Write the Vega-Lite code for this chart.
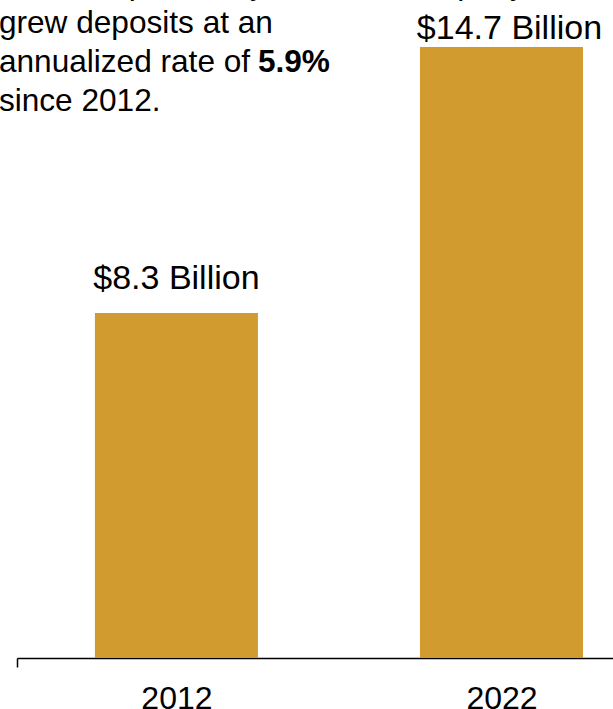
{
  "$schema": "https://vega.github.io/schema/vega-lite/v6.json",
  "width": 596,
  "height": 658,
  "autosize": {"type": "none"},
  "padding": {"left": 17, "top": 0, "right": 0, "bottom": 51},
  "background": "white",
  "config": {"view": {"stroke": null}, "font": "Liberation Sans"},
  "datasets": {
    "bars": [
      {"year": "2012", "deposits": 8.3, "label": "$8.3 Billion"},
      {"year": "2022", "deposits": 14.7, "label": "$14.7 Billion"}
    ],
    "notes": [
      {"year": "2012", "pos": 15.974, "note": "Over the past ten years, the company\ngrew deposits at an\nannualized rate of\nsince 2012.", "bold": false},
      {"year": "2012", "pos": 14.098, "note": "5.9%", "bold": true}
    ]
  },
  "layer": [
    {
      "data": {"name": "bars"},
      "encoding": {
        "x": {
          "field": "year",
          "type": "nominal",
          "scale": {"paddingInner": 0.4985, "paddingOuter": 0.166, "align": 0.722},
          "axis": {
            "title": null,
            "domainColor": "black",
            "domainWidth": 1.5,
            "tickColor": "black",
            "tickWidth": 1.5,
            "tickSize": 9,
            "tickOffset": -159.5,
            "labelOffset": 159.5,
            "tickOpacity": {"condition": {"test": "datum.value == '2012'", "value": 1}, "value": 0},
            "labelFontSize": 32,
            "labelFont": "Liberation Sans",
            "labelColor": "black",
            "labelAngle": 0,
            "labelBaseline": "alphabetic",
            "labelPadding": 41
          }
        },
        "y": {
          "field": "deposits",
          "type": "quantitative",
          "scale": {"domain": [0, 15.83], "nice": false, "zero": true},
          "axis": null
        }
      },
      "layer": [
        {"mark": {"type": "bar", "color": "#D29B30"}},
        {
          "transform": [{"filter": "datum.year == '2012'"}],
          "mark": {"type": "text", "fontSize": 34, "baseline": "alphabetic", "dy": -24, "color": "black", "font": "Liberation Sans"},
          "encoding": {"text": {"field": "label"}}
        },
        {
          "transform": [{"filter": "datum.year == '2022'"}],
          "mark": {"type": "text", "fontSize": 34, "baseline": "alphabetic", "dy": -8, "dx": 8, "color": "black", "font": "Liberation Sans"},
          "encoding": {"text": {"field": "label"}}
        }
      ]
    },
    {
      "data": {"name": "notes"},
      "transform": [{"filter": "!datum.bold"}],
      "mark": {"type": "text", "fontSize": 31.6, "lineHeight": 39, "lineBreak": "\n", "align": "left", "baseline": "alphabetic", "dx": -96, "color": "black", "font": "Liberation Sans"},
      "encoding": {
        "x": {"field": "year", "type": "nominal", "bandPosition": 0},
        "y": {"field": "pos", "type": "quantitative"},
        "text": {"field": "note"}
      }
    },
    {
      "data": {"name": "notes"},
      "transform": [{"filter": "datum.bold"}],
      "mark": {"type": "text", "fontSize": 31.6, "fontWeight": "bold", "align": "left", "baseline": "alphabetic", "dx": 163, "color": "black", "font": "Liberation Sans"},
      "encoding": {
        "x": {"field": "year", "type": "nominal", "bandPosition": 0},
        "y": {"field": "pos", "type": "quantitative"},
        "text": {"field": "note"}
      }
    }
  ]
}
